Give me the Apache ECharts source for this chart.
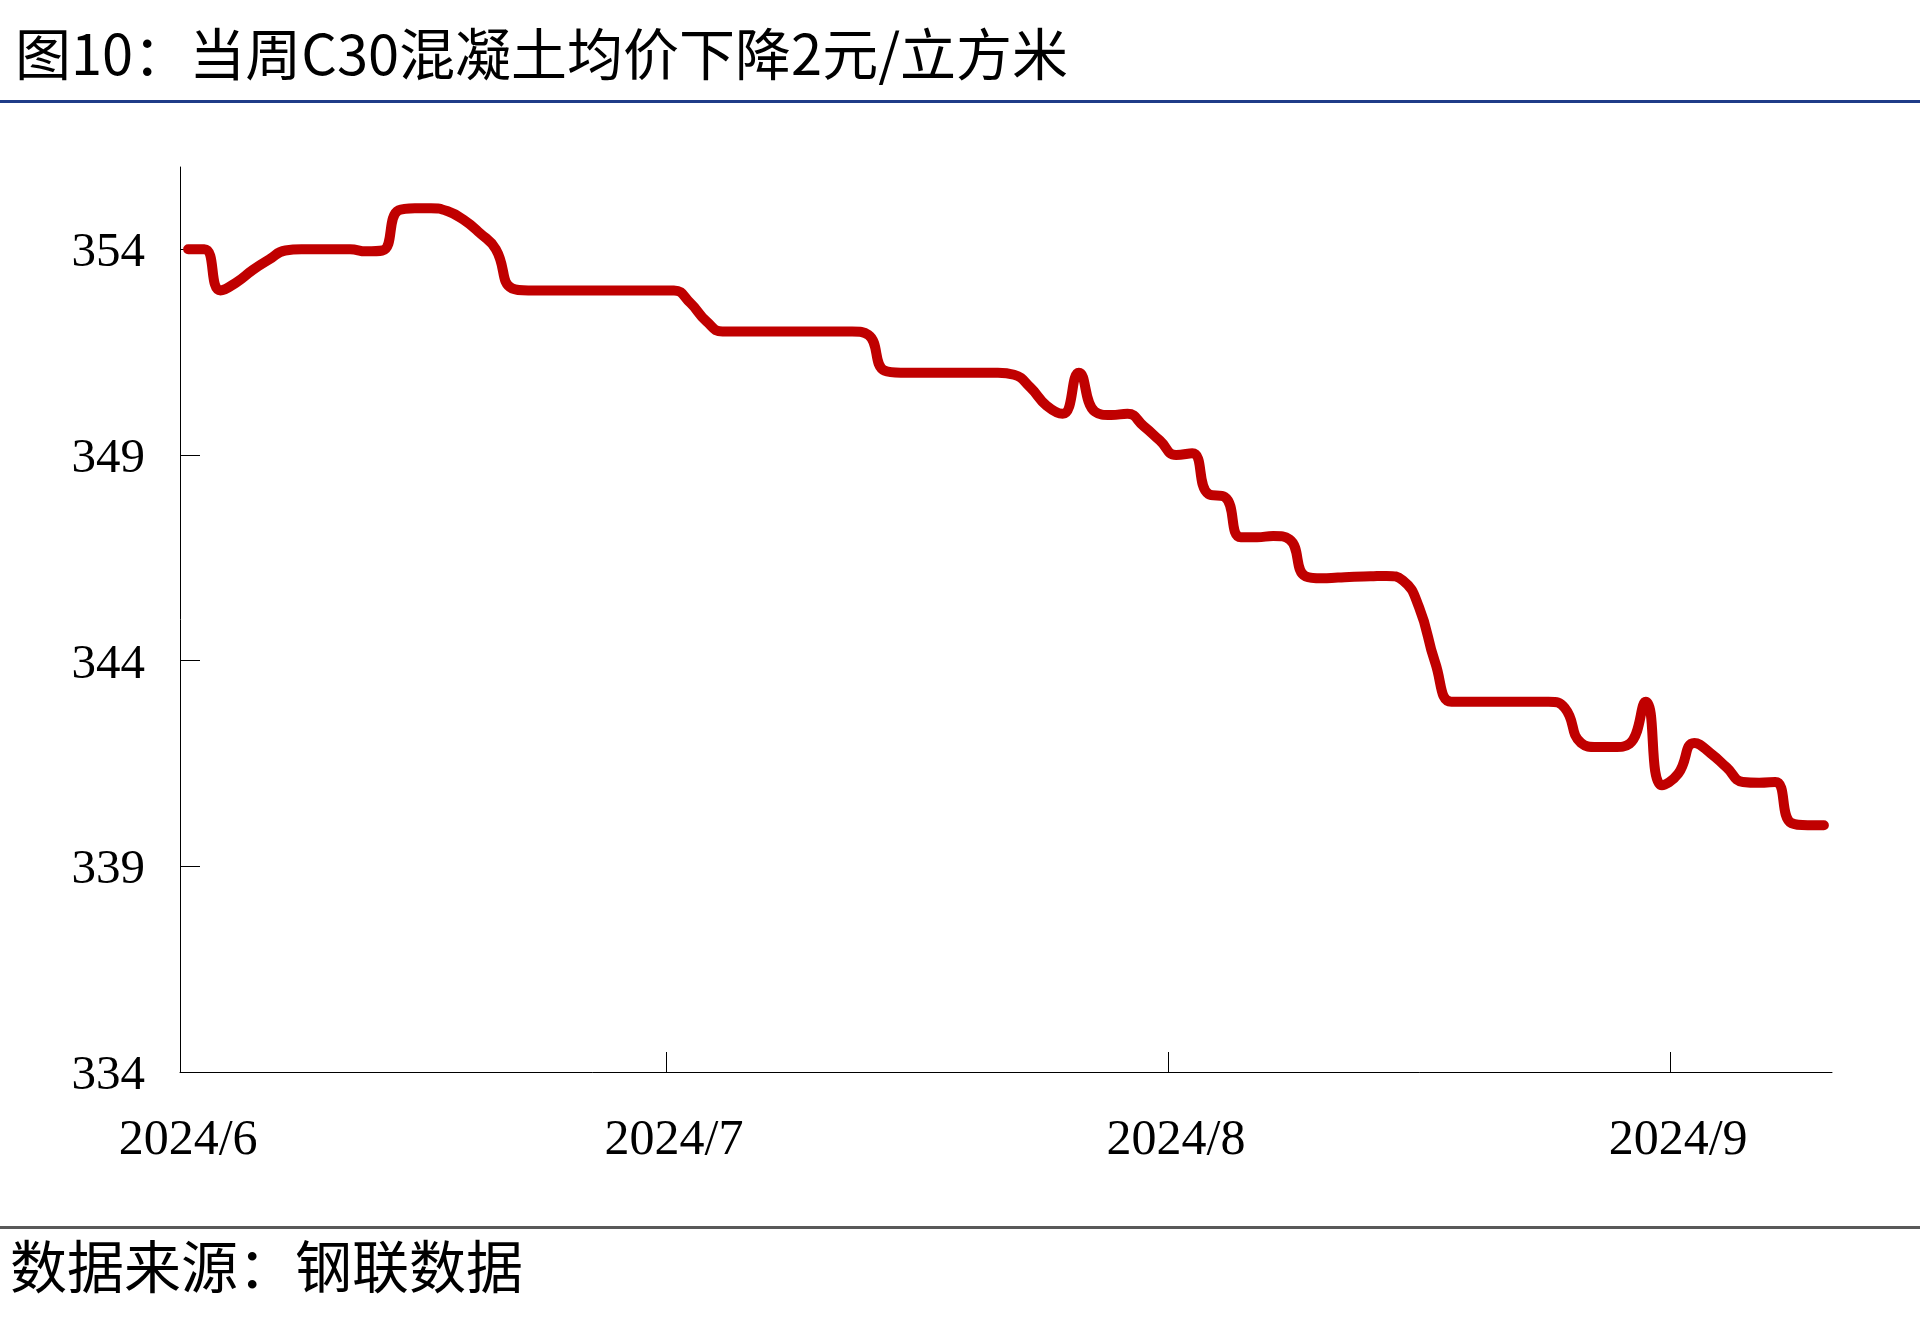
<!DOCTYPE html>
<html>
<head>
<meta charset="utf-8">
<script src="https://cdn.jsdelivr.net/npm/echarts@6/dist/echarts.min.js"></script>
<style>
html,body{margin:0;padding:0;background:#fff;}
#chart{width:1920px;height:1331px;}
</style>
</head>
<body>
<div id="chart"></div>
<script>
// ---- data ----
var titleText = '图10：当周C30混凝土均价下降2元/立方米';
var sourceText = '数据来源：钢联数据';
var startDate = '2024-06-01';
var dayCount = 102; // 2024-06-01 .. 2024-09-10 (daily)
var priceValues = [
  354.0, 354.0, 353.0, 353.2, 353.5, 353.75, 353.97, 354.0, 354.0, 354.0,
  354.0, 353.95, 353.97, 354.95, 355.0, 355.0, 354.93, 354.72, 354.4, 354.0,
  353.05, 353.0, 353.0, 353.0, 353.0, 353.0, 353.0, 353.0, 353.0, 353.0,
  353.0, 352.7, 352.25, 352.0, 352.0, 352.0, 352.0, 352.0, 352.0, 352.0,
  352.0, 352.0, 351.92, 351.05, 351.0, 351.0, 351.0, 351.0, 351.0, 351.0,
  351.0, 350.95, 350.64, 350.2, 350.0, 351.0, 350.05, 349.97, 350.0, 349.7,
  349.35, 349.0, 349.04, 348.05, 347.98, 347.0, 347.0, 347.03, 346.95, 346.05,
  346.0, 346.02, 346.04, 346.05, 346.06, 345.95, 345.3, 343.95, 343.0, 343.0,
  343.0, 343.0, 343.0, 343.0, 343.0, 342.85, 342.0, 341.9, 341.9, 341.98,
  343.0, 340.97, 341.25, 342.0, 341.75, 341.4, 341.05, 341.03, 341.05, 340.05,
  340.0, 340.0
];
var yTickValues = [334, 339, 344, 349, 354];
var yMin = 334, yMax = 356;

// ---- categories (daily dates) ----
var categories = [];
(function(){
  var d = new Date(startDate + 'T00:00:00Z');
  for (var i = 0; i < dayCount; i++) {
    var t = new Date(d.getTime() + i * 86400000);
    categories.push(t.getUTCFullYear() + '-' + (t.getUTCMonth() + 1) + '-' + t.getUTCDate());
  }
})();
function isMonthStart(v){ return v.split('-')[2] === '1'; }
// month-boundary tick positions (band starts) on a helper value axis
var monthTickPos = [];
categories.forEach(function(v, i){ if (i > 0 && isMonthStart(v)) monthTickPos.push(i); });

var chart = echarts.init(document.getElementById('chart'), null, {renderer:'canvas'});
var serif = '"Liberation Serif","Times New Roman",serif';
var cjk = '"Noto Sans CJK SC","Noto Sans",sans-serif';

chart.setOption({
  backgroundColor: '#ffffff',
  animation: false,
  grid: {left: 180, right: 88, top: 167, bottom: 259, containLabel: false},
  xAxis: [{
    type: 'category',
    data: categories,
    boundaryGap: true,
    position: 'bottom',
    axisLine: {show: true, lineStyle: {color: '#000', width: 1}},
    axisTick: {show: false},
    axisLabel: {
      interval: function(idx, v){ return isMonthStart(v); },
      formatter: function(v){ var p = v.split('-'); return p[0] + '/' + p[1]; },
      fontFamily: serif, fontSize: 50, color: '#000', margin: 44
    },
    splitLine: {show: false}
  }, {
    type: 'value',
    position: 'bottom',
    min: 0, max: dayCount,
    axisLine: {show: false},
    axisLabel: {show: false},
    splitLine: {show: false},
    axisTick: {show: true, inside: true, length: 20, lineStyle: {color: '#000', width: 1}, customValues: monthTickPos}
  }],
  yAxis: {
    type: 'value',
    min: yMin, max: yMax,
    axisLine: {show: true, lineStyle: {color: '#000', width: 1}},
    axisTick: {show: true, inside: true, length: 20, lineStyle: {color: '#000', width: 1}, customValues: yTickValues},
    axisLabel: {fontFamily: serif, fontSize: 49, color: '#000', margin: 35, verticalAlign: 'top', lineHeight: 8, customValues: yTickValues},
    splitLine: {show: false}
  },
  series: [{
    type: 'line',
    xAxisIndex: 0,
    data: priceValues,
    smooth: 0.5,
    showSymbol: false,
    symbol: 'none',
    lineStyle: {color: '#C00000', width: 10, cap: 'round', join: 'round'}
  }],
  graphic: [
    {type: 'text', left: 15, top: 26, style: {text: titleText, font: 'normal 56px ' + cjk, fill: '#000'}},
    {type: 'rect', shape: {x: 0, y: 100, width: 1920, height: 3}, style: {fill: '#1F3C88'}},
    {type: 'rect', shape: {x: 0, y: 1226, width: 1920, height: 3}, style: {fill: '#595959'}},
    {type: 'text', left: 10, top: 1238, style: {text: sourceText, font: 'normal 57px ' + cjk, fill: '#000'}}
  ]
});
</script>
</body>
</html>
